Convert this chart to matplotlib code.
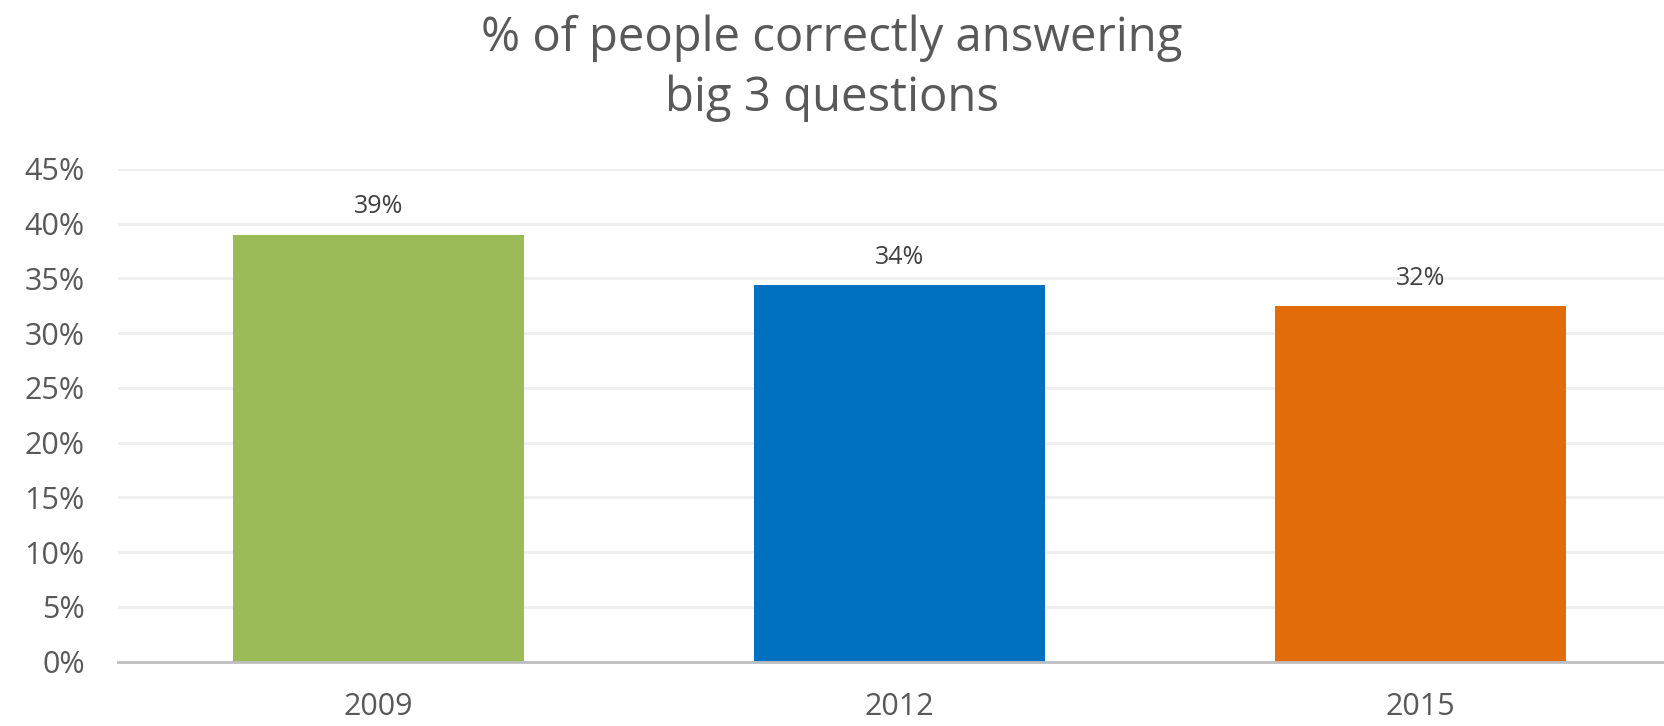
import matplotlib.pyplot as plt
from matplotlib.ticker import PercentFormatter

years = ["2009", "2012", "2015"]
shares = [0.390, 0.344, 0.325]
bar_colors = ["#9BBB59", "#0070C0", "#E36C0A"]

plt.rcParams['font.family'] = ['Open Sans', 'DejaVu Sans']

W, H = 1664, 726
fig = plt.figure(figsize=(W / 100, H / 100), dpi=100)
ax = fig.add_axes([118 / W, 1 - 661.7 / H, 1563 / W, (661.7 - 169) / H])

x = range(len(years))
bars = ax.bar(x, shares, width=0.557, color=bar_colors, zorder=3)

# value labels above the bars
for b, v in zip(bars, shares):
    ax.annotate(f"{v:.0%}", (b.get_x() + b.get_width() / 2, v),
                xytext=(0, 11), textcoords="offset points",
                ha="center", va="bottom", fontsize=18, color="#404040")

ax.set_xlim(-0.5, 2.5)
ax.set_ylim(0, 0.45)
ax.set_yticks([i * 0.05 for i in range(10)])
ax.yaxis.set_major_formatter(PercentFormatter(1.0, decimals=0))
ax.set_xticks(list(x))
ax.set_xticklabels(years)
ax.tick_params(axis="both", length=0, labelsize=22, colors="#595959")
ax.tick_params(axis="x", pad=22)
ax.tick_params(axis="y", pad=24)

ax.grid(True, axis="y", color="#EFEFEF", linewidth=2, zorder=0)
for s in ["top", "right", "left"]:
    ax.spines[s].set_visible(False)
ax.spines["bottom"].set_color("#BFBFBF")
ax.spines["bottom"].set_linewidth(2)
ax.spines["bottom"].set_zorder(4)

fig.text(0.5, 1 - 68 / H, "% of people correctly answering\nbig 3 questions",
         ha="center", va="center", fontsize=34, color="#595959", linespacing=1.35)

fig.savefig("out.png", dpi=100)
